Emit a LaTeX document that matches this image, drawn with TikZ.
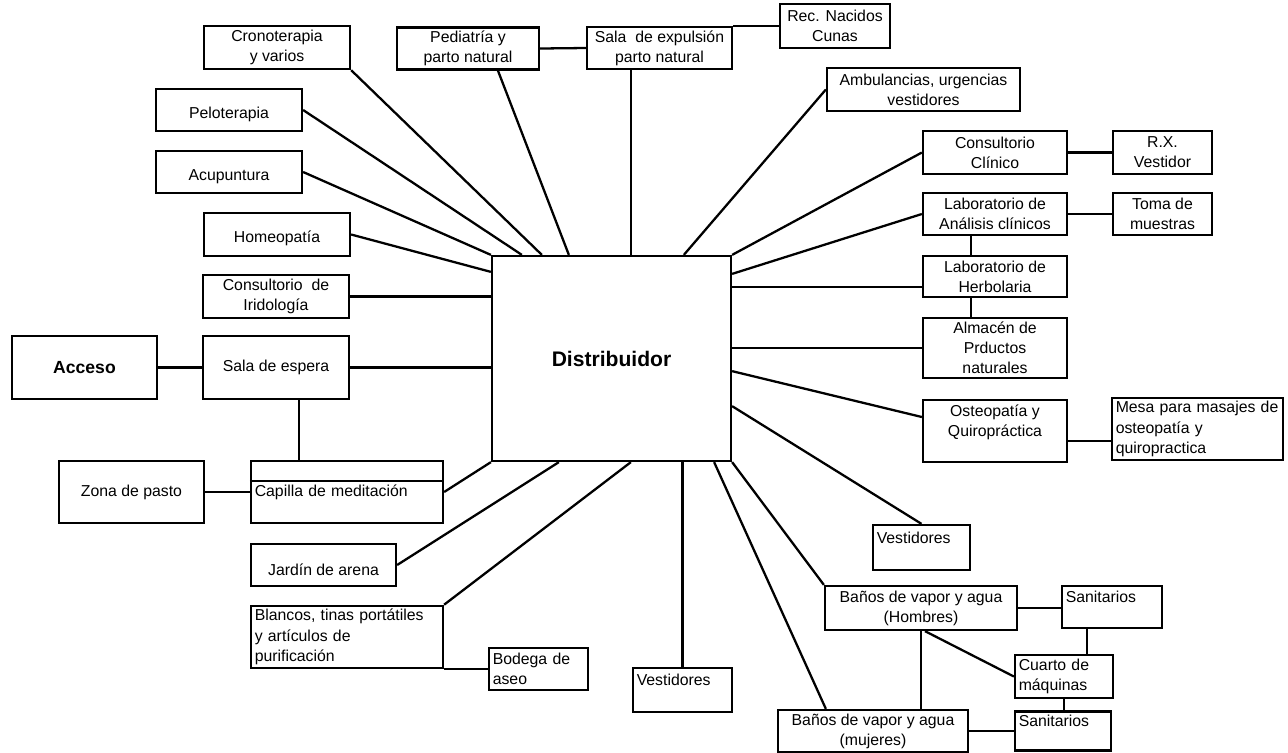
\documentclass[tikz,border=0pt]{standalone}
\usepackage{fontspec}
\setmainfont{Liberation Sans}
\tikzset{
  caja/.style={
    draw,
    line width=1.3pt,
    align=center,
    inner sep=2pt,
    font=\fontsize{9}{11.5}\selectfont
  },
  cajaizq/.style={
    caja,
    align=left,
    text width=#1
  },
  linea/.style={
    line width=1.3pt
  }
}

\begin{document}
\begin{tikzpicture}[x=0.02cm,y=-0.02cm]
\useasboundingbox (0,0) rectangle (1288,752);
\node[caja, minimum width=4.78cm, minimum height=4.1cm, font=\fontsize{12}{14}\selectfont\bfseries] (dist) at (611.5,358.5) {Distribuidor};
\node[caja, minimum width=2.92cm, minimum height=0.86cm] (crono) at (277,47.5) {Cronoterapia\\y varios};
\node[caja, minimum width=2.92cm, minimum height=0.84cm] (pelo) at (229,110) {~\\Peloterapia};
\node[caja, minimum width=2.92cm, minimum height=0.84cm] (acup) at (229,172) {~\\Acupuntura};
\node[caja, minimum width=2.92cm, minimum height=0.86cm] (homeo) at (277,234.5) {~\\Homeopatía};
\node[caja, minimum width=2.92cm, minimum height=0.86cm] (irido) at (276,296.5) {Consultorio~ de\\Iridología};
\node[caja, minimum width=2.92cm, minimum height=1.26cm] (espera) at (276,367.5) {Sala de espera};
\node[caja, minimum width=2.9cm, minimum height=1.26cm, font=\fontsize{10}{12}\selectfont\bfseries] (acceso) at (84.5,367.5) {Acceso};
\node[cajaizq=3.69cm, minimum width=3.84cm, minimum height=1.24cm] (capilla) at (347,492) {Capilla de meditación};
\node[caja, minimum width=2.9cm, minimum height=1.24cm] (zona) at (131.5,492) {Zona de pasto};
\node[caja, minimum width=2.9cm, minimum height=0.84cm] (jardin) at (323.5,565) {~\\Jardín de arena};
\node[cajaizq=3.69cm, minimum width=3.84cm, minimum height=1.24cm] (blancos) at (347,637) {Blancos, tinas portátiles\\y artículos de\\purificación};
\node[cajaizq=1.83cm, minimum width=1.98cm, minimum height=0.84cm] (bodega) at (538.5,669) {Bodega de\\aseo};
\node[cajaizq=1.83cm, minimum width=1.98cm, minimum height=0.88cm] (vestB) at (682.5,690) {Vestidores\\~};
\node[caja, minimum width=2.84cm, minimum height=0.82cm] (pediatria) at (468,48.5) {Pediatría y\\parto natural};
\node[caja, minimum width=2.9cm, minimum height=0.84cm] (expulsion) at (659.5,48) {Sala~ de expulsión\\parto natural};
\node[caja, minimum width=2.2cm, minimum height=0.88cm] (recnac) at (835,26) {Rec. Nacidos\\Cunas};
\node[caja, minimum width=3.86cm, minimum height=0.86cm] (ambul) at (923.5,89.5) {Ambulancias, urgencias\\vestidores};
\node[caja, minimum width=2.88cm, minimum height=0.86cm] (clinico) at (995,152.5) {Consultorio\\Clínico};
\node[caja, minimum width=1.98cm, minimum height=0.86cm] (rx) at (1162.5,152.5) {R.X.\\Vestidor};
\node[caja, minimum width=2.88cm, minimum height=0.84cm] (labana) at (995,214) {Laboratorio de\\Análisis clínicos};
\node[caja, minimum width=1.98cm, minimum height=0.84cm] (toma) at (1162.5,214) {Toma de\\muestras};
\node[caja, minimum width=2.88cm, minimum height=0.82cm] (herbo) at (995,276.5) {Laboratorio de\\Herbolaria};
\node[caja, minimum width=2.88cm, minimum height=1.2cm] (almacen) at (995,348) {Almacén de\\Prductos\\naturales};
\node[caja, minimum width=2.88cm, minimum height=1.24cm] (osteo) at (995,431) {Osteopatía y\\Quiropráctica\\~};
\node[cajaizq=3.27cm, minimum width=3.42cm, minimum height=1.16cm] (mesa) at (1197.5,429) {Mesa para masajes de\\osteopatía y\\quiropractica};
\node[cajaizq=1.79cm, minimum width=1.94cm, minimum height=0.9cm] (vestR) at (921.5,547.5) {Vestidores\\~};
\node[caja, minimum width=3.84cm, minimum height=0.88cm] (hombres) at (921,608) {Baños de vapor y agua\\(Hombres)};
\node[cajaizq=1.85cm, minimum width=2cm, minimum height=0.84cm] (sanit1) at (1112,607) {Sanitarios\\~};
\node[cajaizq=1.81cm, minimum width=1.96cm, minimum height=0.86cm] (cuarto) at (1064,676.5) {Cuarto de\\máquinas};
\node[cajaizq=1.77cm, minimum width=1.92cm, minimum height=0.78cm] (sanit2) at (1063,731) {Sanitarios\\~};
\node[caja, minimum width=3.8cm, minimum height=0.78cm] (mujeres) at (873,731) {Baños de vapor y agua\\(mujeres)};

\draw[linea] ([yshift=-0.42cm]capilla.north west) -- ([yshift=-0.42cm]capilla.north east);

\draw[linea] (crono.south east) -- ([xshift=1.02cm]dist.north west);
\draw[linea] (pelo.east) -- ([xshift=0.62cm]dist.north west);
\draw[linea] (acup.east) -- (dist.north west);
\draw[linea] (homeo.east) -- ([yshift=-0.34cm]dist.north west);
\draw[linea] (irido.east) -- (irido.east -| dist.west);
\draw[linea] (espera.east) -- (espera.east -| dist.west);
\draw[linea] (acceso) -- (espera);
\draw[linea] ([xshift=0.46cm]espera.south) -- ([xshift=0.46cm]espera.south |- capilla.north);
\draw[linea] (zona.east) -- (capilla.west);
\draw[linea] (capilla.east) -- (dist.south west);
\draw[linea] (jardin.east) -- ([xshift=1.36cm]dist.south west);
\draw[linea] (blancos.north east) -- ([xshift=2.8cm]dist.south west);
\draw[linea] (blancos.south east) -- (blancos.south east -| bodega.west);
\draw[linea] (vestB.north |- dist.south) -- (vestB.north);
\draw[linea] ([xshift=-0.36cm]dist.south east) -- ([xshift=0.98cm]mujeres.north west);
\draw[linea] (dist.south east) -- (hombres.north west);
\draw[linea] ([xshift=0.6cm]pediatria.south) -- ([xshift=1.56cm]dist.north west);
\draw[linea] ([xshift=-0.57cm]expulsion.south) -- ([xshift=-0.57cm]expulsion.south |- dist.north);
\draw[linea] (pediatria.east) -- (expulsion.west);
\draw[linea] (expulsion.north east) -- (expulsion.north east -| recnac.west);
\draw[linea] ([xshift=3.86cm]dist.north west) -- (ambul.west);
\draw[linea] (dist.north east) -- (clinico.west);
\draw[linea] (clinico) -- (rx);
\draw[linea] ([yshift=-0.38cm]dist.north east) -- (labana.west);
\draw[linea] (labana) -- (toma);
\draw[linea] ([xshift=-0.48cm]labana.south) -- ([xshift=-0.48cm]labana.south |- herbo.north);
\draw[linea] ([yshift=-0.21cm]herbo.west -| dist.east) -- ([yshift=-0.21cm]herbo.west);
\draw[linea] ([xshift=-0.48cm]herbo.south) -- ([xshift=-0.48cm]herbo.south |- almacen.north);
\draw[linea] (almacen.west -| dist.east) -- (almacen.west);
\draw[linea] ([yshift=1.82cm]dist.south east) -- ([yshift=0.28cm]osteo.west);
\draw[linea] ([yshift=-0.2cm]osteo.east) -- ([yshift=-0.2cm]osteo.east -| mesa.west);
\draw[linea] ([yshift=1.12cm]dist.south east) -- (vestR.north);
\draw[linea] (hombres.east) -- (hombres.east -| sanit1.west);
\draw[linea] ([xshift=-0.5cm]sanit1.south) -- ([xshift=-0.5cm]sanit1.south |- cuarto.north);
\draw[linea] ([xshift=0.08cm]hombres.south) -- (cuarto.west);
\draw[linea] (hombres.south) -- (hombres.south |- mujeres.north);
\draw[linea] (cuarto.south) -- (cuarto.south |- sanit2.north);
\draw[linea] (mujeres.east) -- (sanit2.west);
\end{tikzpicture}
\end{document}
